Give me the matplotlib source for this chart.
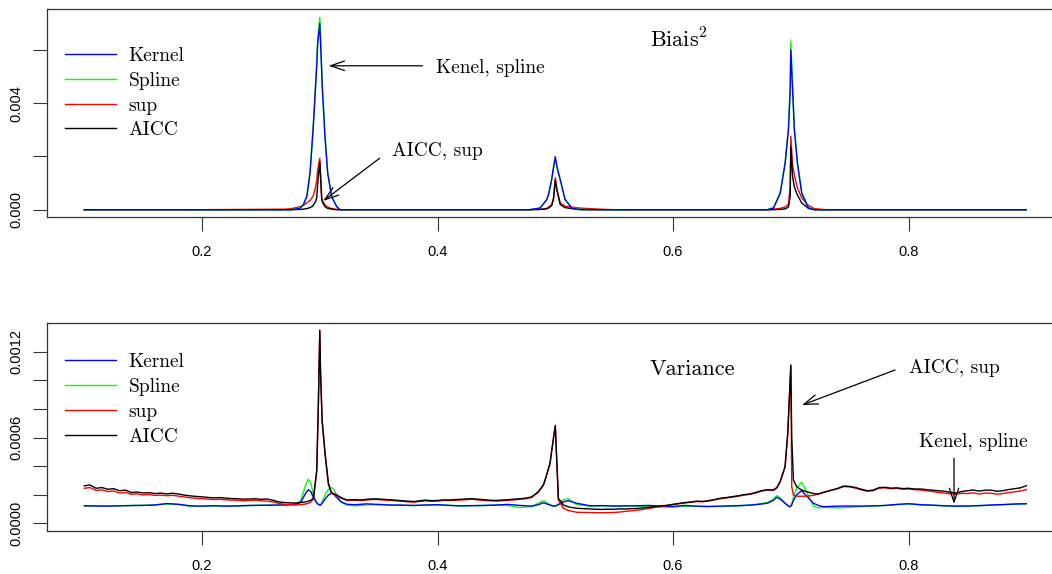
import numpy as np
import matplotlib
matplotlib.use("Agg")
import matplotlib.pyplot as plt
from matplotlib.lines import Line2D

plt.rcParams['mathtext.fontset'] = 'cm'

names = ["Kernel", "Spline", "sup", "AICC"]
colors = {"Kernel": "#0000FF", "Spline": "#00FF00", "sup": "#FF0000", "AICC": "#000000"}

# ---- top panel: squared bias ----
top_x = [0.10, 0.20, 0.27,
         0.276, 0.283, 0.286, 0.289, 0.2917, 0.2939, 0.2946, 0.2964, 0.2974, 0.2982, 0.300,
         0.3016, 0.3021, 0.3044, 0.3067, 0.3101, 0.3144, 0.3172,
         0.33, 0.45,
         0.478, 0.487, 0.4927, 0.4941, 0.4969, 0.4985, 0.500, 0.5015, 0.5042, 0.5083, 0.514, 0.521, 0.538, 0.55,
         0.60,
         0.68, 0.6853, 0.691, 0.6952, 0.698, 0.6995, 0.700, 0.7015, 0.703, 0.7056, 0.7093, 0.715, 0.72, 0.73,
         0.80, 0.90]
bias_kernel = [0, 0, 0,
               0, 0.00005, 0.00018, 0.00049, 0.00137, 0.00274, 0.0032, 0.00461, 0.0054, 0.0062, 0.00699,
               0.0052, 0.00461, 0.00274, 0.00137, 0.00049, 0.00011, 0,
               0, 0,
               0, 0.00006, 0.00038, 0.00055, 0.00113, 0.0016, 0.00199, 0.0016, 0.00113, 0.00038, 0.00006, 0, 0, 0,
               0,
               0, 0.00006, 0.00061, 0.00174, 0.00299, 0.0045, 0.00599, 0.0045, 0.00299, 0.00174, 0.00061, 0.00006, 0, 0,
               0, 0]
bias_spline = [0, 0, 0,
               0, 0.00006, 0.0002, 0.00052, 0.0014, 0.0028, 0.0033, 0.0047, 0.0055, 0.0064, 0.00722,
               0.0053, 0.0047, 0.0028, 0.0014, 0.0005, 0.00012, 0,
               0, 0,
               0, 0.00006, 0.00037, 0.00054, 0.0011, 0.00155, 0.0019, 0.00155, 0.0011, 0.0004, 0.00008, 0.00001, 0, 0,
               0,
               0, 0.00008, 0.00065, 0.0018, 0.0031, 0.0047, 0.00633, 0.0047, 0.0031, 0.0018, 0.00065, 0.00008, 0, 0,
               0, 0]
bias_sup = [0, 0, 0.00002,
            0.00004, 0.00011, 0.00016, 0.00026, 0.00035, 0.00048, 0.00054, 0.00085, 0.00109, 0.0015, 0.00193,
            0.00046, 0.00035, 0.00018, 0.0001, 0.00004, 0.00001, 0,
            0, 0,
            0, 0.00001, 0.00005, 0.00009, 0.00019, 0.00045, 0.0012, 0.00075, 0.00025, 0.00013, 0.0001, 0.00006, 0.00002, 0,
            0,
            0, 0.00002, 0.00005, 0.0001, 0.0002, 0.0009, 0.00276, 0.0017, 0.0013, 0.00082, 0.00044, 0.00016, 0.00004, 0,
            0, 0]
bias_aicc = [0, 0, 0,
             0, 0.00001, 0.00002, 0.00004, 0.00008, 0.00013, 0.00018, 0.0003, 0.00045, 0.00096, 0.0018,
             0.0004, 0.0003, 0.00011, 0.00005, 0.00002, 0, 0,
             0, 0,
             0, 0.00001, 0.00003, 0.00006, 0.00015, 0.0004, 0.00111, 0.0007, 0.00019, 0.00008, 0.00004, 0.00001, 0, 0,
             0,
             0, 0, 0.00001, 0.00003, 0.0001, 0.0005, 0.00236, 0.00125, 0.00085, 0.00055, 0.00025, 0.00005, 0, 0,
             0, 0]

# ---- bottom panel: variance ----
# smooth curves (Kernel, Spline) are read every 0.01, noisy ones (sup, AICC) every 0.005
peak1_x = [0.284, 0.288, 0.2903, 0.2925, 0.2946, 0.2974, 0.2988, 0.300, 0.3006, 0.302,
           0.3045, 0.3073, 0.3096, 0.311, 0.3144, 0.318, 0.323]
peak2_x = [0.4856, 0.4899, 0.4913, 0.4955, 0.4978, 0.500, 0.5026, 0.5069, 0.5111, 0.5182]
peak3_x = [0.6852, 0.6881, 0.6909, 0.6951, 0.6974, 0.6989, 0.700, 0.7008, 0.7022, 0.705,
           0.7093, 0.7135, 0.7192, 0.7235, 0.7277]

def grid(a, b, step):
    return list(np.round(np.arange(a, b + step / 2, step), 4))

smooth_x = (grid(0.10, 0.28, 0.01) + peak1_x + grid(0.33, 0.48, 0.01) + peak2_x
            + grid(0.53, 0.68, 0.01) + peak3_x + grid(0.74, 0.90, 0.01))
noisy_x = (grid(0.10, 0.28, 0.005) + peak1_x + grid(0.33, 0.48, 0.005) + peak2_x
           + grid(0.53, 0.68, 0.005) + peak3_x + grid(0.74, 0.90, 0.005))

var_kernel = [0.000122, 0.000121, 0.00012, 0.000122, 0.000124, 0.000125, 0.000128, 0.000138, 0.000133, 0.000122,
              0.00012, 0.000123, 0.00012, 0.000122, 0.000125, 0.000126, 0.000127, 0.000128, 0.000133,
              0.00015, 0.00021, 0.000235, 0.00022, 0.00018, 0.000142, 0.000132, 0.000128, 0.000127, 0.00014,
              0.00017, 0.000198, 0.000208, 0.00021, 0.00018, 0.00015, 0.000133,
              0.00013, 0.000136, 0.000132, 0.000128, 0.000127, 0.000125, 0.000128, 0.00013, 0.000125, 0.000122,
              0.000124, 0.000125, 0.000128, 0.000132, 0.000125, 0.00012,
              0.00013, 0.000144, 0.00014, 0.000128, 0.000122, 0.000121, 0.00013, 0.00015, 0.000158, 0.00014,
              0.000122, 0.000124, 0.00012, 0.000122, 0.000123, 0.000125, 0.00012, 0.000118, 0.000125, 0.00012,
              0.000118, 0.00012, 0.000122, 0.000125, 0.00013, 0.00014,
              0.00016, 0.000182, 0.00017, 0.00014, 0.000125, 0.000116, 0.00012, 0.00013, 0.00016, 0.0002,
              0.000228, 0.00019, 0.00014, 0.000125, 0.000116,
              0.00012, 0.000121, 0.00012, 0.000122, 0.000125, 0.000132, 0.000137, 0.00013, 0.000127, 0.000123,
              0.00012, 0.000121, 0.000124, 0.000128, 0.000131, 0.000135, 0.000137]
var_spline = [0.000123, 0.000122, 0.000121, 0.000123, 0.000125, 0.000126, 0.000129, 0.000136, 0.000131, 0.00012,
              0.000119, 0.000122, 0.00012, 0.000121, 0.000124, 0.000126, 0.000127, 0.000129, 0.000136,
              0.00016, 0.00027, 0.000308, 0.00028, 0.0002, 0.000145, 0.000132, 0.000127, 0.000126, 0.00015,
              0.0002, 0.000238, 0.000249, 0.000245, 0.0002, 0.00015, 0.000128,
              0.000122, 0.000128, 0.00013, 0.000127, 0.000126, 0.000124, 0.000127, 0.000129, 0.000126, 0.000121,
              0.000123, 0.000124, 0.000127, 0.000125, 0.00011, 0.000118,
              0.00014, 0.000158, 0.000152, 0.00013, 0.00012, 0.00012, 0.000135, 0.000165, 0.000172, 0.00013,
              0.00012, 0.000123, 0.000121, 0.000122, 0.00012, 0.000118, 0.000114, 0.000113, 0.00012, 0.000118,
              0.000116, 0.000118, 0.00012, 0.000124, 0.000132, 0.000145,
              0.00017, 0.000193, 0.00018, 0.000142, 0.000122, 0.000115, 0.00012, 0.000135, 0.00018, 0.00025,
              0.000287, 0.00022, 0.00012, 0.000108, 0.000112,
              0.000108, 0.000112, 0.000118, 0.000121, 0.000124, 0.00013, 0.000136, 0.00013, 0.000126, 0.000122,
              0.00012, 0.00012, 0.000123, 0.000127, 0.00013, 0.000134, 0.000136]
var_sup = [0.000245, 0.00025, 0.00023, 0.000234, 0.000222, 0.000226, 0.000212, 0.000216, 0.000203, 0.000206,
           0.000198, 0.000201, 0.000195, 0.000197, 0.000193, 0.000196, 0.00019, 0.000184, 0.000179, 0.000175,
           0.000172, 0.000169, 0.000166, 0.000168, 0.000164, 0.000162, 0.000161, 0.000158, 0.00016, 0.000161,
           0.000158, 0.000155, 0.00015, 0.00014, 0.000132, 0.00013, 0.000128,
           0.00013, 0.000135, 0.00014, 0.00015, 0.00017, 0.00036, 0.00083, 0.00134, 0.00106, 0.00071,
           0.00048, 0.000275, 0.000215, 0.000205, 0.000193, 0.000177, 0.00016,
           0.000161, 0.000159, 0.000163, 0.000167, 0.000166, 0.000162, 0.00016, 0.000157, 0.000154, 0.00015,
           0.000148, 0.000153, 0.000157, 0.000154, 0.000155, 0.00016, 0.000159, 0.000161, 0.000163, 0.000166,
           0.000168, 0.000163, 0.00016, 0.000157, 0.000156, 0.000158, 0.000161, 0.000164, 0.000168, 0.000172,
           0.000181,
           0.000218, 0.000265, 0.0003, 0.000415, 0.000555, 0.00068, 0.000165, 0.000105, 0.00009, 0.000077,
           0.000075, 0.000074, 0.000074, 0.000075, 0.000076, 0.000079, 0.000084, 0.000088, 0.000092, 0.000098,
           0.000105, 0.000112, 0.000118, 0.000124, 0.00013, 0.000137, 0.000142, 0.000147, 0.000152, 0.000151,
           0.000155, 0.000163, 0.000172, 0.000177, 0.000183, 0.000189, 0.000197, 0.000202, 0.000212, 0.000225,
           0.000232,
           0.00023, 0.000247, 0.000288, 0.000392, 0.000625, 0.000895, 0.0011, 0.000256, 0.000198, 0.00019,
           0.000189, 0.00019, 0.000195, 0.000205, 0.000218,
           0.000242, 0.000257, 0.000254, 0.000246, 0.000234, 0.000224, 0.000228, 0.000246, 0.000248, 0.000242,
           0.000244, 0.000238, 0.00024, 0.000235, 0.000233, 0.000228, 0.000222, 0.000216, 0.000212, 0.000206,
           0.000203, 0.00021, 0.000208, 0.000213, 0.000205, 0.000212, 0.00021, 0.000204, 0.000208, 0.000215,
           0.00022, 0.000226, 0.000235]
var_aicc = [0.000262, 0.000268, 0.000245, 0.00025, 0.000238, 0.000242, 0.000228, 0.000232, 0.000215, 0.000219,
            0.000212, 0.000214, 0.000208, 0.000211, 0.000206, 0.00021, 0.000205, 0.000197, 0.000192, 0.000188,
            0.000185, 0.000181, 0.000178, 0.00018, 0.000176, 0.000173, 0.000172, 0.000169, 0.00017, 0.000172,
            0.000168, 0.00017, 0.000162, 0.00015, 0.000145, 0.000143, 0.000142,
            0.000145, 0.00015, 0.000155, 0.000162, 0.000175, 0.00037, 0.00084, 0.001352, 0.00107, 0.000722,
            0.00049, 0.00028, 0.00022, 0.00021, 0.000198, 0.00018, 0.000163,
            0.000166, 0.000163, 0.000168, 0.000171, 0.00017, 0.000167, 0.000165, 0.000161, 0.000158, 0.000155,
            0.000152, 0.000158, 0.000162, 0.000158, 0.00016, 0.000164, 0.000163, 0.000166, 0.000168, 0.000171,
            0.000172, 0.000168, 0.000165, 0.000161, 0.00016, 0.000163, 0.000165, 0.000169, 0.000172, 0.000176,
            0.000185,
            0.000221, 0.00027, 0.000303, 0.00042, 0.00056, 0.000685, 0.000175, 0.000128, 0.000115, 0.000105,
            0.0001, 0.000098, 0.000097, 0.000099, 0.000098, 0.000101, 0.0001, 0.000103, 0.000104, 0.000108,
            0.000112, 0.000117, 0.000122, 0.000126, 0.000133, 0.000139, 0.000145, 0.000149, 0.000155, 0.000153,
            0.000158, 0.000166, 0.000175, 0.00018, 0.000186, 0.000192, 0.0002, 0.000205, 0.000215, 0.000228,
            0.000235,
            0.000233, 0.00025, 0.000291, 0.000396, 0.000629, 0.0009, 0.001107, 0.0006, 0.000303, 0.000256,
            0.000232, 0.000221, 0.000208, 0.000205, 0.000215,
            0.000245, 0.000261, 0.000258, 0.00025, 0.000238, 0.000228, 0.000232, 0.00025, 0.000252, 0.000246,
            0.000248, 0.000243, 0.000245, 0.00024, 0.00024, 0.000236, 0.000232, 0.000228, 0.000225, 0.000218,
            0.000212, 0.000222, 0.000228, 0.000233, 0.000225, 0.000232, 0.000232, 0.000224, 0.000228, 0.000236,
            0.000242, 0.000248, 0.000263]

for s in (bias_kernel, bias_spline, bias_sup, bias_aicc):
    assert len(s) == len(top_x)
for s in (var_kernel, var_spline):
    assert len(s) == len(smooth_x)
for s in (var_sup, var_aicc):
    assert len(s) == len(noisy_x), (len(s), len(noisy_x))

W, H = 1052, 574
fig = plt.figure(figsize=(W / 100, H / 100), dpi=100)
L, R = 46.6, 1064.0
ax1 = fig.add_axes([L / W, 1 - 217.3 / H, (R - L) / W, (217.3 - 9) / H])
ax2 = fig.add_axes([L / W, 1 - 531.0 / H, (R - L) / W, (531.0 - 322.7) / H])

tickfont = {'family': 'Liberation Sans', 'size': 10.5}
serif = 'cmr10'

def style(ax, yt, ylab):
    ax.set_xlim(0.068, 0.932)
    ax.set_xticks([0.2, 0.4, 0.6, 0.8])
    ax.set_xticklabels(["0.2", "0.4", "0.6", "0.8"], fontdict=tickfont)
    ax.set_yticks(yt)
    ax.set_yticklabels(ylab, fontdict=tickfont, rotation=90, va='center')
    ax.tick_params(axis='both', length=10, width=0.8, color='#333333')
    ax.tick_params(axis='x', pad=10)
    ax.tick_params(axis='y', pad=6.5)
    for sp in ax.spines.values():
        sp.set_linewidth(0.9)
        sp.set_color('#333333')

lw = 1.0
# top
ax1.plot(top_x, bias_sup, color=colors["sup"], lw=lw)
ax1.plot(top_x, bias_aicc, color=colors["AICC"], lw=lw)
ax1.plot(top_x, bias_spline, color=colors["Spline"], lw=lw)
ax1.plot(top_x, bias_kernel, color=colors["Kernel"], lw=lw)
ax1.set_ylim(-0.000285, 0.00753)
style(ax1, [0, 0.002, 0.004, 0.006], ["0.000", "", "0.004", ""])

# bottom
ax2.plot(smooth_x, var_spline, color=colors["Spline"], lw=lw)
ax2.plot(smooth_x, var_kernel, color=colors["Kernel"], lw=lw)
ax2.plot(noisy_x, var_sup, color=colors["sup"], lw=lw)
ax2.plot(noisy_x, var_aicc, color=colors["AICC"], lw=lw)
ax2.set_ylim(-0.0000538, 0.001403)
style(ax2, [0, 0.0002, 0.0004, 0.0006, 0.0008, 0.001, 0.0012],
      ["0.0000", "", "", "0.0006", "", "", "0.0012"])

# legends
handles = [Line2D([], [], color=colors[n], lw=lw) for n in names]
for ax, ytop in ((ax1, 0.817), (ax2, 0.853)):
    ax.legend(handles, names, loc='upper left', bbox_to_anchor=(0.0181, ytop),
              frameon=False, borderpad=0, borderaxespad=0, handlelength=2.62,
              handletextpad=0.65, labelspacing=0.35, prop={'family': serif, 'size': 14})

arrow = dict(arrowstyle='->,head_length=0.5,head_width=0.17', lw=0.9, color='black',
             shrinkA=0, shrinkB=0, mutation_scale=20)

ax1.text(0.5801, 0.00639, r"Biais$^2$", fontfamily=serif, fontsize=16, va='center', ha='left')
ax1.text(0.3985, 0.0053, "Kenel, spline", va='center', ha='left', fontfamily=serif, fontsize=14)
ax1.annotate("", xy=(0.3075, 0.0054), xytext=(0.3873, 0.0054), arrowprops=arrow)
ax1.text(0.3612, 0.00221, "AICC, sup", va='center', ha='left', fontfamily=serif, fontsize=14)
ax1.annotate("", xy=(0.3029, 0.00033), xytext=(0.3508, 0.00193), arrowprops=arrow)

ax2.text(0.5801, 0.001076, "Variance", fontfamily=serif, fontsize=16, va='center', ha='left')
ax2.text(0.80, 0.001083, "AICC, sup", va='center', ha='left', fontfamily=serif, fontsize=14)
ax2.annotate("", xy=(0.7095, 0.000827), xytext=(0.7885, 0.001072), arrowprops=arrow)
ax2.text(0.8089, 0.000566, "Kenel, spline", va='center', ha='left', fontfamily=serif, fontsize=14)
ax2.annotate("", xy=(0.8386, 0.000135), xytext=(0.8386, 0.000454), arrowprops=arrow)

fig.savefig("out.png", dpi=100)
